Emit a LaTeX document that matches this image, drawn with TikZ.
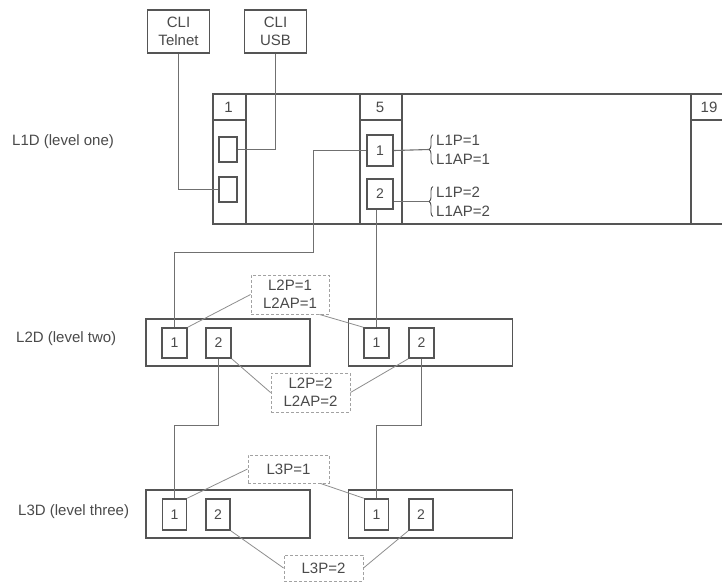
\documentclass[tikz,border=0pt]{standalone}
\usepackage{fontspec}
\setmainfont{Liberation Sans}
\usepackage{tikz}
\usetikzlibrary{positioning,decorations.pathreplacing}
\definecolor{cFrame}{HTML}{555555}
\definecolor{cInk}{HTML}{4A4A4A}
\definecolor{cWire}{HTML}{707070}
\definecolor{cTie}{HTML}{8E8E8E}
\definecolor{cDash}{HTML}{A2A2A2}
\tikzset{
  box/.style={draw=cFrame,line width=1.6pt,text=cInk,inner sep=0pt,align=center,font=\fontsize{15}{18}\selectfont},
  cli/.style={box,minimum width=62pt,minimum height=43pt},
  port/.style={box,minimum width=#1,minimum height=30pt,font=\fontsize{14}{16}\selectfont},
  port/.default=25pt,
  lbl/.style={text=cInk,inner sep=0pt,align=left,font=\fontsize{15}{19}\selectfont},
  wire/.style={draw=cWire,line width=1.1pt},
  tie/.style={draw=cTie,line width=0.8pt},
  brc/.style={draw=cInk,line width=0.9pt,decorate,decoration={brace,amplitude=4pt}},
}
\begin{document}
\begin{tikzpicture}[x=1pt,y=-1pt,
    dev/.style={box,minimum width=164pt,minimum height=47pt},
    note/.style={draw=cDash,line width=0.9pt,densely dashed,text=cInk,align=center,inner sep=0pt,font=\fontsize{15}{18}\selectfont},
    num/.style={text=cInk,font=\fontsize{15}{16}\selectfont}]
  \useasboundingbox[fill=white] (0,0) rectangle (722,582);
  \node[lbl,anchor=west] (lv1) at (12,142) {L1D (level one)};
  \node[lbl,anchor=west] (lv2) at (16,339) {L2D (level two)};
  \node[lbl,anchor=west] (lv3) at (18,512) {L3D (level three)};
  \node[cli] (telnet) at (178.5,31.5) {CLI\\Telnet};
  \node[cli] (usb) at (275.5,31.5) {CLI\\USB};
  \node[box,minimum width=540pt,minimum height=130pt,anchor=north west] (l1d) at (212,93) {};
  \foreach \n/\xa/\w/\c in {1/212/33/228.5,5/359/42/380,19/690/50/709}{
    \node[box,minimum width=\w pt,minimum height=130pt,anchor=north west] (s\n) at (\xa,93) {};
    \draw[draw=cFrame,line width=1.6pt] (\xa,120) -- ++(\w,0);
    \node[num] (h\n) at (\c,107) {\n};}
  \node[box,minimum width=18pt,minimum height=25pt] (p1a) at (228,149.5) {};
  \node[box,minimum width=18pt,minimum height=25pt] (p1b) at (228,189.5) {};
  \node[port=26pt,minimum height=31pt] (p5a) at (380,150.5) {1};
  \node[port=26pt,minimum height=30pt] (p5b) at (380,194) {2};
  \draw[wire] (telnet.south) |- (p1b.west);
  \draw[wire] (usb.south) |- (p1a.east);
  \node[lbl,anchor=west] (t1) at (436,149.5) {L1P=1\\L1AP=1};
  \node[lbl,anchor=west] (t2) at (436,201.5) {L1P=2\\L1AP=2};
  \draw[brc] ([xshift=-3pt]t1.south west) -- ([xshift=-3pt]t1.north west);
  \draw[brc] ([xshift=-3pt]t2.south west) -- ([xshift=-3pt]t2.north west);
  \draw[wire] (p5a.east) -- ([xshift=-7pt]t1.west);
  \draw[wire] (p5b.east |- t2.west) -- ([xshift=-7pt]t2.west);
  \node[dev] (d2l) at (228,342.5) {};
  \node[dev] (d2r) at (430.5,342.5) {};
  \foreach \p/\x/\t in {a1/174.5/1,a2/218.5/2,b1/376.5/1,b2/421.5/2}
    \node[port] (\p) at (\x,343) {\t};
  \coordinate (j1) at (313.5,252.5);
  \draw[wire] (p5a.west) -| (j1) -| (a1.north);
  \draw[wire] (b1.north) -- (b1.north |- p5b.south);
  \node[note,minimum width=78pt,minimum height=39pt] (n21) at (290,294.5) {L2P=1\\L2AP=1};
  \node[note,minimum width=79pt,minimum height=39pt] (n22) at (310.5,392.5) {L2P=2\\L2AP=2};
  \draw[tie] (n21.west) -- (a1.north east);
  \draw[tie] ([xshift=-10pt]n21.south east) -- (b1.north west);
  \draw[tie] (a2.south east) -- (n22.west);
  \draw[tie] (n22.east) -- (b2.south west);
  \node[dev,minimum height=48pt] (d3l) at (228,514) {};
  \node[dev,minimum height=48pt] (d3r) at (430.5,514) {};
  \foreach \p/\x/\t in {c1/174.5/1,c2/218/2,e1/376.5/1,e2/421/2}
    \node[port=24pt,minimum height=31pt] (\p) at (\x,514.5) {\t};
  \draw[wire] (a2.south) -- ++(0,67) -| (c1.north);
  \draw[wire] (b2.south) -- ++(0,67) -| (e1.north);
  \node[note,minimum width=81pt,minimum height=28pt] (n31) at (288.5,469) {L3P=1};
  \node[note,minimum width=79pt,minimum height=26pt] (n32) at (323.5,568) {L3P=2};
  \draw[tie] (n31.west) -- (c1.north east);
  \draw[tie] ([xshift=-9pt]n31.south east) -- (e1.north west);
  \draw[tie] (c2.south east) -- (n32.west);
  \draw[tie] (n32.east) -- (e2.south west);
\end{tikzpicture}
\end{document}
